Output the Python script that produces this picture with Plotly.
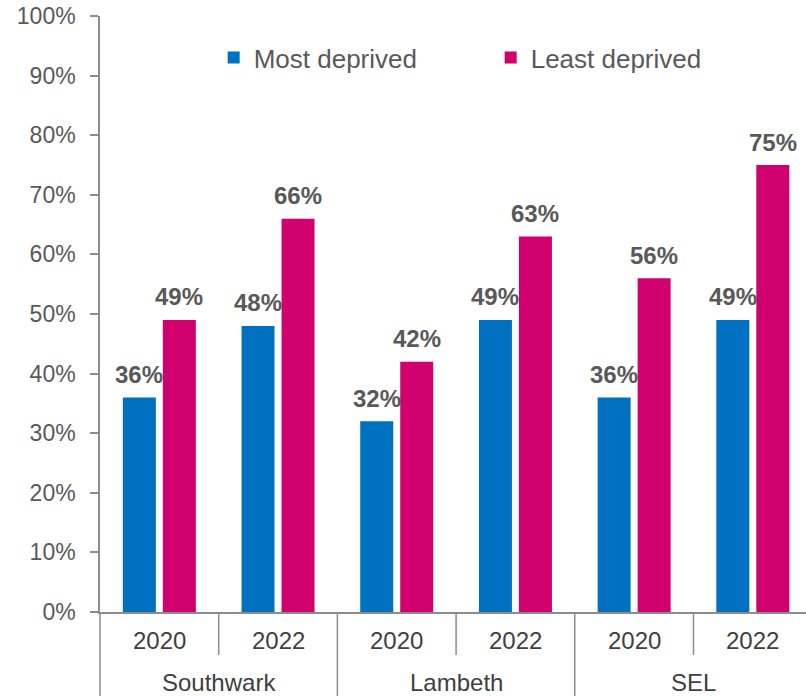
import plotly.graph_objects as go

regions = ["Southwark", "Lambeth", "SEL"]
years = ["2020", "2022", "2020", "2022", "2020", "2022"]
most_deprived = [0.36, 0.48, 0.32, 0.49, 0.36, 0.49]
least_deprived = [0.49, 0.66, 0.42, 0.63, 0.56, 0.75]
y_ticks = [i / 10 for i in range(11)]

BLUE = "#0070C0"
PINK = "#D0006F"
TEXT = "#595959"
LINE = "#8C8C8C"
FONT = "Liberation Sans, Arial, sans-serif"

xs = list(range(len(years)))

fig = go.Figure()
fig.add_trace(go.Bar(x=xs, y=most_deprived, name="Most deprived",
                     marker=dict(color=BLUE, line=dict(width=0))))
fig.add_trace(go.Bar(x=xs, y=least_deprived, name="Least deprived",
                     marker=dict(color=PINK, line=dict(width=0))))

annotations = []
for vals, dx in ((most_deprived, -20), (least_deprived, 20)):
    for x, v in zip(xs, vals):
        annotations.append(dict(x=x, y=v, xref="x", yref="y", text=f"{round(v*100)}%",
                                showarrow=False, xshift=dx, yshift=23, yanchor="middle",
                                font=dict(family=FONT, size=24, color=TEXT, weight="bold")))
for x, yr in zip(xs, years):
    annotations.append(dict(x=x, y=0, xref="x", yref="paper", text=yr, showarrow=False,
                            yshift=-28, yanchor="middle",
                            font=dict(family=FONT, size=24, color="#404040")))
for i, r in enumerate(regions):
    annotations.append(dict(x=2 * i + 0.5, y=0, xref="x", yref="paper", text=r, showarrow=False,
                            yshift=-70, yanchor="middle", borderpad=0,
                            font=dict(family=FONT, size=24, color="#404040")))

H = 596.0
shapes = []
for i in range(len(regions)):
    shapes.append(dict(type="line", xref="x", yref="paper", x0=2 * i + 0.5, x1=2 * i + 0.5,
                       y0=0, y1=-43 / H, line=dict(color=LINE, width=1.5)))
for i in range(1, len(regions)):
    shapes.append(dict(type="line", xref="x", yref="paper", x0=2 * i - 0.5, x1=2 * i - 0.5,
                       y0=0, y1=-84 / H, line=dict(color=LINE, width=1.5)))
shapes.append(dict(type="line", xref="paper", yref="paper", x0=0, x1=0,
                   y0=0, y1=-84 / H, line=dict(color=LINE, width=1.5)))

fig.update_layout(
    width=806, height=696,
    margin=dict(l=100, r=0, t=16, b=84),
    paper_bgcolor="white", plot_bgcolor="white",
    barmode="group", bargap=0.326, bargroupgap=0.175,
    font=dict(family=FONT, color=TEXT),
    showlegend=True,
    legend=dict(orientation="h", x=0.161, xanchor="left", y=0.93, yanchor="middle",
                font=dict(family=FONT, size=26, color=TEXT),
                entrywidth=232, bgcolor="rgba(0,0,0,0)"),
    xaxis=dict(range=[-0.5, 5.448], showline=True, linecolor=LINE, linewidth=1.5,
               showticklabels=False, ticks="", showgrid=False, zeroline=False, fixedrange=True),
    yaxis=dict(range=[0, 1], tickvals=y_ticks, tickformat=".0%", showline=True,
               linecolor=LINE, linewidth=1.5, ticks="outside", ticklen=8, tickcolor=LINE,
               tickwidth=1.5, showgrid=False, zeroline=False, ticklabelstandoff=10,
               tickfont=dict(family=FONT, size=23, color=TEXT), fixedrange=True),
    annotations=annotations, shapes=shapes,
)

fig.write_html("out.html", config={"displayModeBar": False},
               post_script="document.body.style.margin='0';")
